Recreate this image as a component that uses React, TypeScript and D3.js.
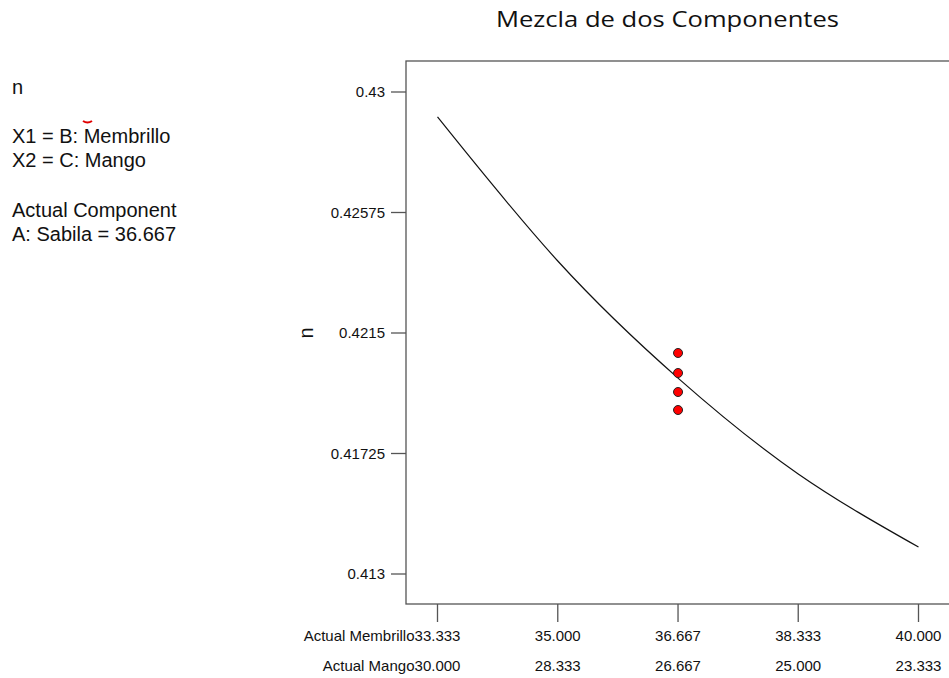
import { useEffect, useRef } from "react"
import * as d3 from "d3"

// eje X: Membrillo (arriba) y Mango (abajo)
const membrilloTicks = [33.333, 35.0, 36.667, 38.333, 40.0]
const mangoTicks = ["30.000", "28.333", "26.667", "25.000", "23.333"]
const yTicks = [0.413, 0.41725, 0.4215, 0.42575, 0.43]
const yTickLabels = ["0.413", "0.41725", "0.4215", "0.42575", "0.43"]

// curva de prediccion
const curveX = [33.333, 35.0, 36.667, 38.333, 40.0]
const curveN = [0.42912, 0.42404, 0.41991, 0.41653, 0.41395]

// puntos de diseno
const pointX = [36.667, 36.667, 36.667, 36.667]
const pointN = [0.420795, 0.420089, 0.419419, 0.418784]

const legendLines = ["n", "", "X1 = B: Membrillo", "X2 = C: Mango", "", "Actual Component", "A: Sabila = 36.667"]

export default function App() {
  const svgRef = useRef(null)

  useEffect(() => {
    if (!svgRef.current) return
    const svg = d3.select(svgRef.current)
    svg.selectAll("*").remove()

    const width = 949
    const height = 678
    const box = { left: 406, top: 61, right: 951, bottom: 604 }

    const x = d3.scaleLinear().domain([33.333, 40.0]).range([437.5, 918.5])
    const y = d3.scaleLinear().domain([0.413, 0.43]).range([574, 92])

    // titulo
    svg
      .append("text")
      .attr("x", 667.5)
      .attr("y", 27)
      .attr("text-anchor", "middle")
      .attr("font-family", "'Open Sans', sans-serif")
      .attr("font-size", "21px")
      .attr("textLength", 343)
      .attr("lengthAdjust", "spacingAndGlyphs")
      .attr("fill", "#111")
      .text("Mezcla de dos Componentes")

    // leyenda de la izquierda
    const lg = svg
      .append("g")
      .attr("font-family", "'Liberation Sans', Arial, sans-serif")
      .attr("font-size", "20px")
      .attr("fill", "#111")
    const lineY = [94, 0, 143, 167, 0, 217, 241]
    legendLines.forEach((t, i) => {
      if (!t) return
      lg.append("text").attr("x", 12).attr("y", lineY[i]).text(t)
    })
    svg
      .append("path")
      .attr("d", "M83,121 Q87.5,124 92,121")
      .attr("fill", "none")
      .attr("stroke", "#e00000")
      .attr("stroke-width", 2)

    // marco
    svg
      .append("rect")
      .attr("x", box.left)
      .attr("y", box.top)
      .attr("width", box.right - box.left)
      .attr("height", box.bottom - box.top)
      .attr("fill", "none")
      .attr("stroke", "#555")
      .attr("stroke-width", 1.3)

    // eje Y
    const yg = svg
      .append("g")
      .attr("font-family", "'Liberation Sans', Arial, sans-serif")
      .attr("font-size", "15px")
    yTicks.forEach((v, i) => {
      yg.append("line")
        .attr("x1", box.left - 15)
        .attr("x2", box.left)
        .attr("y1", y(v))
        .attr("y2", y(v))
        .attr("stroke", "#555")
        .attr("stroke-width", 1.3)
      yg.append("text")
        .attr("x", box.left - 21)
        .attr("y", y(v))
        .attr("dy", "0.35em")
        .attr("text-anchor", "end")
        .attr("fill", "#111")
        .text(yTickLabels[i])
    })
    svg
      .append("text")
      .attr("transform", `translate(306,333) rotate(-90)`)
      .attr("text-anchor", "middle")
      .attr("dy", "0.35em")
      .attr("font-family", "'Liberation Sans', Arial, sans-serif")
      .attr("font-size", "20px")
      .attr("fill", "#111")
      .text("n")

    // eje X
    const xg = svg
      .append("g")
      .attr("font-family", "'Liberation Sans', Arial, sans-serif")
      .attr("font-size", "15px")
      .attr("fill", "#111")
    membrilloTicks.forEach((v, i) => {
      xg.append("line")
        .attr("x1", x(v))
        .attr("x2", x(v))
        .attr("y1", box.bottom)
        .attr("y2", box.bottom + 18)
        .attr("stroke", "#555")
        .attr("stroke-width", 1.3)
      xg.append("text").attr("x", x(v)).attr("y", 641).attr("text-anchor", "middle").text(v.toFixed(3))
      xg.append("text").attr("x", x(v)).attr("y", 671).attr("text-anchor", "middle").text(mangoTicks[i])
    })
    xg.append("text")
      .attr("x", x(membrilloTicks[0]) - 23)
      .attr("y", 641)
      .attr("text-anchor", "end")
      .text("Actual Membrillo")
    xg.append("text")
      .attr("x", x(membrilloTicks[0]) - 23)
      .attr("y", 671)
      .attr("text-anchor", "end")
      .text("Actual Mango")

    // curva
    const line = d3
      .line<number>()
      .x((d, i) => x(curveX[i]))
      .y((d) => y(d))
      .curve(d3.curveNatural)
    svg
      .append("path")
      .attr("d", line(curveN))
      .attr("fill", "none")
      .attr("stroke", "#111")
      .attr("stroke-width", 1.2)

    // puntos
    svg
      .selectAll(".pt")
      .data(pointN)
      .enter()
      .append("circle")
      .attr("class", "pt")
      .attr("cx", (d, i) => x(pointX[i]))
      .attr("cy", (d) => y(d))
      .attr("r", 4.5)
      .attr("fill", "#ff0000")
      .attr("stroke", "#222")
      .attr("stroke-width", 1)

    svg.attr("width", width).attr("height", height).attr("viewBox", [0, 0, width, height])
  }, [])

  return (
    <div style={{ position: "absolute", left: 0, top: 0, background: "#fff" }}>
      <svg ref={svgRef} style={{ display: "block" }}></svg>
    </div>
  )
}
